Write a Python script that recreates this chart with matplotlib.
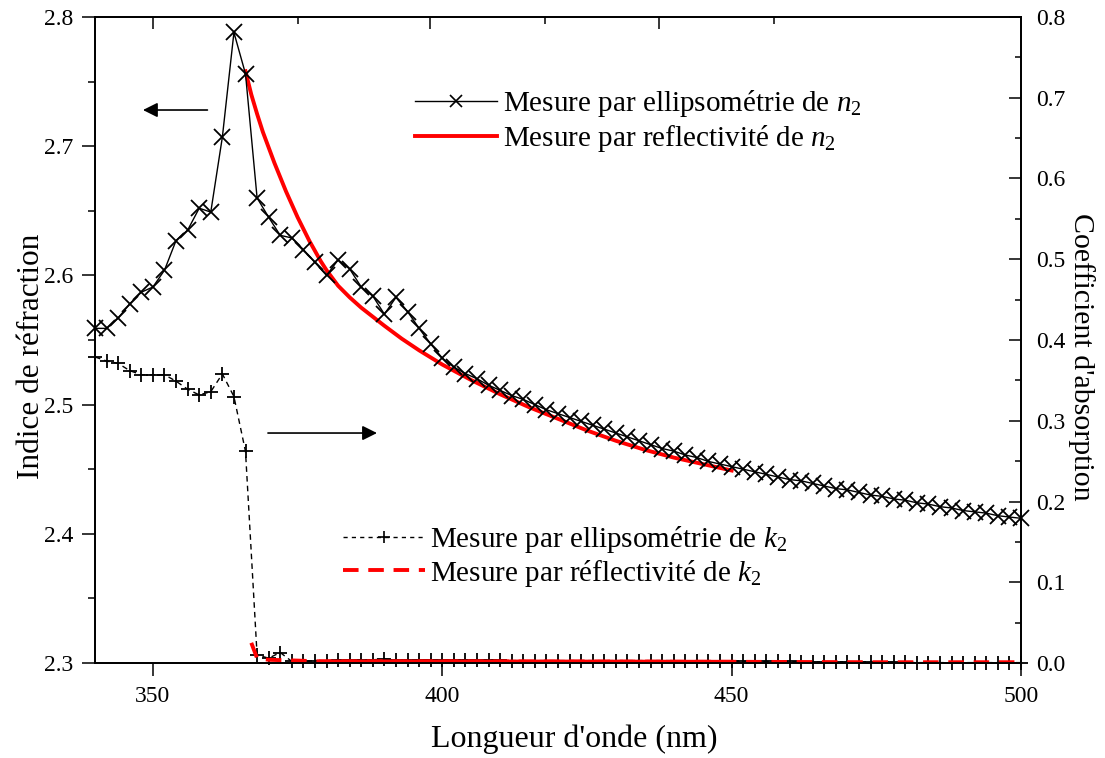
import numpy as np
import matplotlib
matplotlib.use('Agg')
from matplotlib import pyplot as plt
from matplotlib.lines import Line2D

plt.rcParams['font.family'] = ['Liberation Serif', 'DejaVu Serif']
plt.rcParams['mathtext.fontset'] = 'custom'
plt.rcParams['mathtext.rm'] = 'Liberation Serif'
plt.rcParams['mathtext.it'] = 'Liberation Serif:italic'

# ellipsometrie : un point tous les 2 nm de 340 a 500 nm
wl_ellips = np.arange(340, 502, 2)
n_ellips = [2.559, 2.559, 2.567, 2.578, 2.587, 2.591, 2.604, 2.627, 2.635, 2.652,
            2.649, 2.707, 2.788, 2.756, 2.660, 2.645, 2.631, 2.629, 2.620, 2.610,
            2.600, 2.612, 2.605, 2.591, 2.584, 2.570, 2.583, 2.572, 2.559, 2.547,
            2.536, 2.529, 2.524, 2.520, 2.515, 2.511, 2.507, 2.504, 2.500, 2.496,
            2.493, 2.490, 2.487, 2.484, 2.481, 2.478, 2.475, 2.472, 2.469, 2.466,
            2.464, 2.461, 2.459, 2.456, 2.454, 2.452, 2.450, 2.448, 2.446, 2.444,
            2.442, 2.441, 2.439, 2.437, 2.435, 2.434, 2.432, 2.430, 2.429, 2.427,
            2.426, 2.424, 2.423, 2.421, 2.420, 2.418, 2.417, 2.416, 2.414, 2.413,
            2.412]
k_ellips = [0.379, 0.374, 0.371, 0.362, 0.357, 0.357, 0.357, 0.349, 0.339, 0.332,
            0.336, 0.358, 0.330, 0.262, 0.010, 0.006, 0.013, 0.002, 0.002, 0.003,
            0.003, 0.004, 0.004, 0.004, 0.004, 0.005, 0.004, 0.004, 0.004, 0.004,
            0.004, 0.004, 0.004, 0.004, 0.004, 0.004, 0.003, 0.003, 0.003, 0.003,
            0.003, 0.003, 0.003, 0.003, 0.003, 0.003, 0.003, 0.003, 0.003, 0.003,
            0.003, 0.002, 0.002, 0.002, 0.002, 0.002, 0.002, 0.002, 0.002, 0.002,
            0.002, 0.001, 0.001, 0.001, 0.001, 0.001, 0.001, 0.001, 0.001, 0.001,
            0.001, 0.0005, 0.0005, 0.0005, 0.0005, 0.0005, 0.0005, 0.0005, 0.0005, 0.0005,
            0.0005]

# reflectivite
wl_refl_n = [366, 367, 368, 369, 370, 371, 372, 373, 374, 375, 376, 377, 378, 379,
             380, 382, 384, 386, 388, 390, 393, 396, 400, 405, 410, 415, 420, 425,
             430, 435, 440, 445, 450]
n_refl = [2.758, 2.740, 2.725, 2.711, 2.699, 2.687, 2.676, 2.665, 2.655, 2.645,
          2.636, 2.627, 2.619, 2.611, 2.604, 2.592, 2.583, 2.575, 2.568, 2.561,
          2.551, 2.542, 2.531, 2.519, 2.508, 2.498, 2.489, 2.480, 2.472, 2.465,
          2.459, 2.454, 2.449]
wl_refl_k = [367, 368, 370, 375, 379, 400, 425, 450, 475, 500]
k_refl = [0.025, 0.006, 0.004, 0.003, 0.002, 0.002, 0.0018, 0.0015, 0.001, 0.001]

top_major = [350, 397.9, 437.4]
top_minor = [375.1, 417.7, 457.4]

fs_tick = 17
fs_leg = 21

fig = plt.figure(figsize=(11.05, 7.58), dpi=100)
ax = fig.add_axes([0.086, 0.1253, 0.838, 0.8523])

ax.plot(wl_ellips, n_ellips, color='k', lw=1.0, marker='x', ms=11, mew=1.3, clip_on=False, zorder=3)
ax.plot(wl_refl_n, n_refl, color='red', lw=2.8, zorder=2)
ax.set_xlim(340, 500)
ax.set_ylim(2.3, 2.8)
ax.set_xticks([350, 400, 450, 500])
ax.set_yticks(np.arange(2.3, 2.81, 0.1))
ax.set_yticks(np.arange(2.35, 2.8, 0.1), minor=True)
ax.yaxis.set_major_formatter(matplotlib.ticker.FormatStrFormatter('%.1f'))
ax.tick_params(axis='y', which='major', direction='out', length=9.4, width=1.1, labelsize=fs_tick, pad=6)
ax.tick_params(axis='y', which='minor', direction='out', length=5, width=1.1)
ax.tick_params(axis='x', which='major', direction='out', length=9.4, width=1.1, labelsize=fs_tick, pad=7, top=False)
ax.set_xlabel("Longueur d'onde (nm)", fontsize=23, labelpad=13)
ax.xaxis.label.set_x(0.518)
ax.set_ylabel("Indice de réfraction", fontsize=22.5, labelpad=-1)
ax.yaxis.label.set_y(0.474)

ax2 = ax.twinx()
ax2.plot(wl_ellips, k_ellips, color='k', lw=1.0, ls=(0, (4, 3)), marker='+', ms=10, mew=1.3, clip_on=False)
ax2.plot(wl_refl_k, k_refl, color='red', lw=2.8, ls=(0, (4, 2.5)))
wk = np.array(wl_refl_k)
mask = (wk >= 379) & (wk <= 450)
ax2.plot(wk[mask], np.array(k_refl)[mask], color='red', lw=2.8)
ax2.set_ylim(0, 0.8)
ax2.set_yticks(np.arange(0, 0.81, 0.1))
ax2.set_yticks(np.arange(0.05, 0.8, 0.1), minor=True)
ax2.yaxis.set_major_formatter(matplotlib.ticker.FormatStrFormatter('%.1f'))
ax2.tick_params(axis='y', which='major', direction='in', length=8.6, width=1.1, labelsize=fs_tick, pad=11)
ax2.tick_params(axis='y', which='minor', direction='in', length=4.3, width=1.1)
ax2.set_ylabel("Coefficient d'absorption", fontsize=21.5, rotation=-90, labelpad=21)
ax2.yaxis.label.set_y(0.474)

ax3 = ax.twiny()
ax3.set_xlim(340, 500)
ax3.set_xticks(top_major)
ax3.set_xticks(top_minor, minor=True)
ax3.set_xticklabels([])
ax3.tick_params(axis='x', which='major', direction='in', length=8.6, width=1.1)
ax3.tick_params(axis='x', which='minor', direction='in', length=5, width=1.1)

for a in (ax, ax2, ax3):
    for s in a.spines.values():
        s.set_linewidth(1.1)

# fleches
ax.annotate('', xy=(347.8, 2.728), xytext=(359.9, 2.728),
            arrowprops=dict(arrowstyle='-|>', color='k', lw=1.2, mutation_scale=22))
ax.annotate('', xy=(389.2, 2.478), xytext=(369.4, 2.478),
            arrowprops=dict(arrowstyle='-|>', color='k', lw=1.2, mutation_scale=22))

h1 = [Line2D([], [], color='k', lw=1.0, marker='x', ms=8, mew=1.2),
      Line2D([], [], color='red', lw=2.8)]
lab1 = [r'Mesure par ellipsométrie de $n_2$', r'Mesure par reflectivité de $n_2$']
leg1 = ax3.legend(h1, lab1, loc='upper left', bbox_to_anchor=(0.3756, 0.884),
                  bbox_transform=fig.transFigure, frameon=False, fontsize=fs_leg,
                  handlelength=2.8, handletextpad=0.2, labelspacing=0.15,
                  borderpad=0, borderaxespad=0)
ax3.add_artist(leg1)

h2 = [Line2D([], [], color='k', lw=1.0, ls=(0, (3, 3)), marker='+', ms=9, mew=1.2),
      Line2D([], [], color='red', lw=2.8, ls=(0, (4, 2.5)))]
lab2 = [r'Mesure par ellipsométrie de $k_2$', r'Mesure par réflectivité de $k_2$']
ax3.legend(h2, lab2, loc='upper left', bbox_to_anchor=(0.3104, 0.309),
           bbox_transform=fig.transFigure, frameon=False, fontsize=fs_leg,
           handlelength=2.8, handletextpad=0.2, labelspacing=0.1,
           borderpad=0, borderaxespad=0)

fig.savefig('out.png', dpi=100)
